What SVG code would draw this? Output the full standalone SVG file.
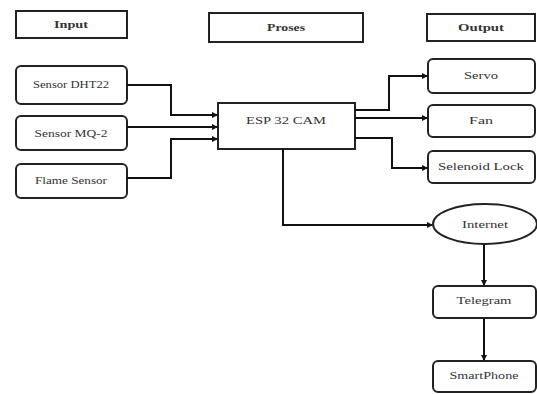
<svg xmlns="http://www.w3.org/2000/svg" width="537" height="394" viewBox="0 0 537 394">
<style>
.box{fill:#fff;stroke:#222;stroke-width:2}
.t{font-family:"Liberation Serif",serif;font-size:11px;fill:#333;text-anchor:middle}
.h{font-weight:bold}
.c{fill:none;stroke:#111;stroke-width:2}
</style>
<defs>
<marker id="a" markerWidth="6" markerHeight="6" refX="5" refY="3" orient="auto" markerUnits="userSpaceOnUse">
<path d="M0,0 L6,3 L0,6 Z" fill="#111"/>
</marker>
</defs>
<rect width="537" height="394" fill="#fff"/>
<g id="input"><rect class="box" x="16" y="11" width="111" height="27"/><text class="t h" x="71" y="28" textLength="34" lengthAdjust="spacingAndGlyphs">Input</text></g>
<g id="proses"><rect class="box" x="209" y="13" width="154" height="29"/><text class="t h" x="286" y="31" textLength="38" lengthAdjust="spacingAndGlyphs">Proses</text></g>
<g id="output"><rect class="box" x="427" y="14" width="108" height="27"/><text class="t h" x="481" y="31" textLength="46" lengthAdjust="spacingAndGlyphs">Output</text></g>
<g id="dht22"><rect class="box" x="16" y="66" width="111" height="38" rx="5"/><text class="t" x="71" y="88" textLength="76" lengthAdjust="spacingAndGlyphs">Sensor DHT22</text></g>
<g id="mq2"><rect class="box" x="16" y="116" width="111" height="34" rx="5"/><text class="t" x="71" y="137" textLength="73" lengthAdjust="spacingAndGlyphs">Sensor MQ-2</text></g>
<g id="flame"><rect class="box" x="16" y="164" width="111" height="34" rx="5"/><text class="t" x="71" y="184" textLength="72" lengthAdjust="spacingAndGlyphs">Flame Sensor</text></g>
<g id="esp"><rect class="box" x="218" y="103" width="137" height="46"/><text class="t" x="286" y="124" textLength="80" lengthAdjust="spacingAndGlyphs">ESP 32 CAM</text></g>
<g id="servo"><rect class="box" x="428" y="59" width="107" height="34" rx="5"/><text class="t" x="481" y="79" textLength="34" lengthAdjust="spacingAndGlyphs">Servo</text></g>
<g id="fan"><rect class="box" x="428" y="105" width="107" height="32" rx="5"/><text class="t" x="481" y="124" textLength="24" lengthAdjust="spacingAndGlyphs">Fan</text></g>
<g id="selenoid"><rect class="box" x="428" y="151" width="107" height="32" rx="5"/><text class="t" x="481" y="170" textLength="86" lengthAdjust="spacingAndGlyphs">Selenoid Lock</text></g>
<g id="internet"><ellipse class="box" cx="485" cy="224" rx="52" ry="20"/><text class="t" x="485" y="228" textLength="46" lengthAdjust="spacingAndGlyphs">Internet</text></g>
<g id="telegram"><rect class="box" x="433" y="286" width="103" height="32" rx="5"/><text class="t" x="484" y="304" textLength="55" lengthAdjust="spacingAndGlyphs">Telegram</text></g>
<g id="smartphone"><rect class="box" x="433" y="361" width="103" height="31" rx="5"/><text class="t" x="484" y="379" textLength="69" lengthAdjust="spacingAndGlyphs">SmartPhone</text></g>
<g id="connectors">
<path class="c" d="M127,85 H171 V115 H217" marker-end="url(#a)"/>
<path class="c" d="M127,127 H217" marker-end="url(#a)"/>
<path class="c" d="M127,178 H171 V139 H217" marker-end="url(#a)"/>
<path class="c" d="M355,110 H389 V76 H427" marker-end="url(#a)"/>
<path class="c" d="M355,118 H427" marker-end="url(#a)"/>
<path class="c" d="M355,138 H392 V168 H427" marker-end="url(#a)"/>
<path class="c" d="M283,149 V225 H432" marker-end="url(#a)"/>
<path class="c" d="M484,244 V285" marker-end="url(#a)"/>
<path class="c" d="M484,318 V360" marker-end="url(#a)"/>
</g>
</svg>
